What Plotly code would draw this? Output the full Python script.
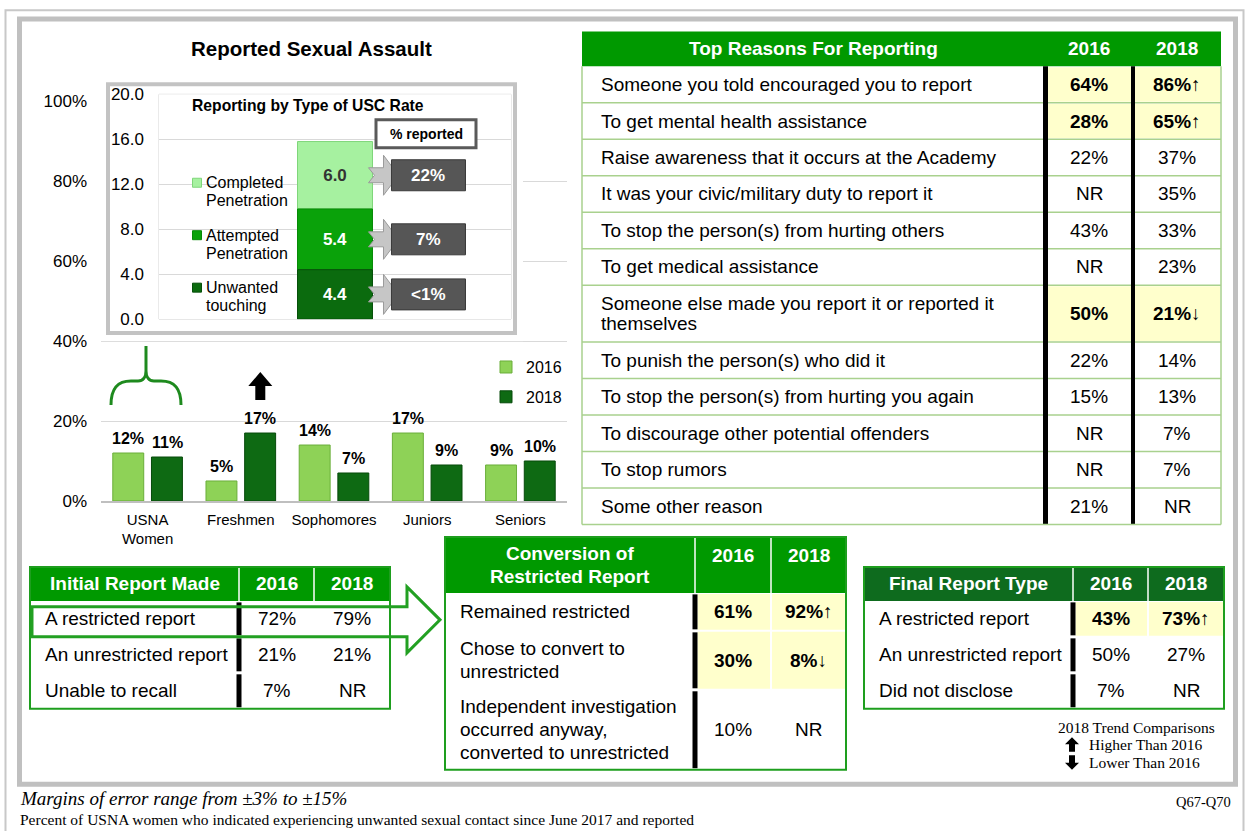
import itertools
import plotly.graph_objects as go

W, H = 1247, 831
SANS = "Arial, 'Liberation Sans', sans-serif"
SERIF = "'Times New Roman', 'Liberation Serif', serif"

# ---------------- data ----------------
groups = ["USNA Women", "Freshmen", "Sophomores", "Juniors", "Seniors"]
group_ticks = ["USNA<br>Women", "Freshmen", "Sophomores", "Juniors", "Seniors"]
rate_2016 = [12, 5, 14, 17, 9]
rate_2018 = [11, 17, 7, 9, 10]
trend_2018 = ["", "up", "", "", ""]

usc_types = ["Unwanted<br>touching", "Attempted<br>Penetration", "Completed<br>Penetration"]
usc_rate = [4.4, 5.4, 6.0]
usc_reported = ["<1%", "7%", "22%"]

reasons = [
    "Someone you told encouraged you to report",
    "To get mental health assistance",
    "Raise awareness that it occurs at the Academy",
    "It was your civic/military duty to report it",
    "To stop the person(s) from hurting others",
    "To get medical assistance",
    "Someone else made you report it or reported it<br>themselves",
    "To punish the person(s) who did it",
    "To stop the person(s) from hurting you again",
    "To discourage other potential offenders",
    "To stop rumors",
    "Some other reason",
]
reasons_2016 = ["64%", "28%", "22%", "NR", "43%", "NR", "50%", "22%", "15%", "NR", "NR", "21%"]
reasons_2018 = ["86%", "65%", "37%", "35%", "33%", "23%", "21%", "14%", "13%", "7%", "7%", "NR"]
reasons_trend = ["up", "up", "", "", "", "", "down", "", "", "", "", ""]

initial_types = ["A restricted report", "An unrestricted report", "Unable to recall"]
initial_2016 = ["72%", "21%", "7%"]
initial_2018 = ["79%", "21%", "NR"]
initial_trend = ["", "", ""]

conversion_types = [
    "Remained restricted",
    "Chose to convert to<br>unrestricted",
    "Independent investigation<br>occurred anyway,<br>converted to unrestricted",
]
conversion_2016 = ["61%", "30%", "10%"]
conversion_2018 = ["92%", "8%", "NR"]
conversion_trend = ["up", "down", ""]

final_types = ["A restricted report", "An unrestricted report", "Did not disclose"]
final_2016 = ["43%", "50%", "7%"]
final_2018 = ["73%", "27%", "NR"]
final_trend = ["up", "", ""]

years = ["2016", "2018"]

# ---------------- helpers ----------------
# vertical placement: page y (px from top) -> paper fraction, with a small
# offset/scale so the drawing lands where it should inside the window
Y_OFF, Y_SCALE = 8.6, 0.978


def fx(x):
    return x / W


def fy(y):
    return 1 - ((y - Y_OFF) / Y_SCALE) / H


def ppath(points):
    out = []
    for p in points:
        if isinstance(p, str):
            out.append(p)
        else:
            out.append(f"{fx(p[0]):.5f} {fy(p[1]):.5f}")
    return " ".join(out)


shapes = []
annotations = []


def prect(x0, y0, x1, y1, fill=None, line_color=None, line_width=0, layer="below"):
    return dict(type="rect", xref="paper", yref="paper",
                x0=fx(x0), x1=fx(x1), y0=fy(y1), y1=fy(y0),
                fillcolor=fill if fill else "rgba(0,0,0,0)",
                line=dict(color=line_color if line_color else "rgba(0,0,0,0)", width=line_width),
                layer=layer)


def pline(x0, y0, x1, y1, color, width, layer="below"):
    return dict(type="line", xref="paper", yref="paper",
                x0=fx(x0), x1=fx(x1), y0=fy(y0), y1=fy(y1),
                line=dict(color=color, width=width), layer=layer)


def label(x, y, text, size, color="black", xanchor="center", family=SANS):
    annotations.append(dict(xref="paper", yref="paper", x=fx(x), y=fy(y), text=text,
                            showarrow=False, xanchor=xanchor, yanchor="middle",
                            font=dict(size=size, color=color, family=family)))


fig = go.Figure()

# ---------------- outer frames ----------------
shapes.append(prect(5.5, 9.8, 1243.5, 850, line_color="#C8C8C8", line_width=2))
shapes.append(prect(19.5, 18.5, 1235.5, 784.5, line_color="#C0C0C0", line_width=5))

# ---------------- main grouped bar chart ----------------
year_fill = {"2016": "#8ED257", "2018": "#0E6A13"}
year_edge = {"2016": "#6AAE3A", "2018": "#074A0B"}
for yr, vals in zip(years, (rate_2016, rate_2018)):
    fig.add_trace(go.Bar(
        x=groups, y=vals, name=yr, legendgroup=yr,
        marker=dict(color=year_fill[yr], line=dict(color=year_edge[yr], width=1)),
        hoverinfo="skip",
    ))

BAR_SHIFT = 19.4
for yr, vals, sgn in zip(years, (rate_2016, rate_2018), (-1, 1)):
    for g, v in zip(groups, vals):
        annotations.append(dict(xref="x", yref="y", x=g, y=v, xshift=sgn * BAR_SHIFT, yshift=4,
                                text=f"<b>{v}%</b>", showarrow=False, yanchor="bottom",
                                font=dict(size=16, color="black", family=SANS)))

# trend arrows above the 2018 bars
for g, v, t in zip(groups, rate_2018, trend_2018):
    if t:
        if t == "up":
            arrow = "M14.5 33 L24.5 33 L24.5 47 L31.5 47 L19.5 61 L7.5 47 L14.5 47 Z"
        else:
            arrow = "M14.5 61 L24.5 61 L24.5 47 L31.5 47 L19.5 33 L7.5 47 L14.5 47 Z"
        shapes.append(dict(type="path", xref="x", yref="y", xsizemode="pixel", ysizemode="pixel",
                           xanchor=g, yanchor=v, path=arrow, fillcolor="black",
                           line=dict(color="black", width=0), layer="above"))

# brace over the USNA Women pair
brace = ppath(["M", (111, 405), "C", (111, 389), (117, 381), (131, 381), "L", (138, 381),
               "C", (143, 381), (146, 377), (146, 371), "L", (146, 346),
               "M", (146, 371), "C", (146, 377), (149, 381), (154, 381), "L", (161, 381),
               "C", (175, 381), (181, 389), (181, 405)])
shapes.append(dict(type="path", xref="paper", yref="paper", path=brace,
                   line=dict(color="#1E8A1E", width=3), fillcolor="rgba(0,0,0,0)", layer="above"))

label(311, 48, "<b>Reported Sexual Assault</b>", 20.5)

# ---------------- inset: frame subplot (x2/y2) ----------------
FR_L, FR_R, FR_T, FR_B = 100, 523, 76, 341


def X2(x):
    return (x - FR_L) / (FR_R - FR_L)


def Y2(y):
    return (fy(y) - fy(FR_B)) / (fy(FR_T) - fy(FR_B))


fig.add_trace(go.Scatter(x=[None], y=[None], xaxis="x2", yaxis="y2", showlegend=False,
                         hoverinfo="skip"))
shapes.append(dict(type="rect", xref="x2", yref="y2", x0=X2(108), x1=X2(515), y0=Y2(333), y1=Y2(84),
                   fillcolor="white", line=dict(color="#C3C3C3", width=4), layer="below"))
shapes.append(dict(type="rect", xref="x2", yref="y2", x0=X2(159), x1=X2(511), y0=Y2(319), y1=Y2(94),
                   fillcolor="white", line=dict(color="#D4D4D4", width=1), layer="below"))

# ---------------- inset: stacked USC rate bar (x3/y3) ----------------
usc_fill = ["#0B6B0E", "#0AA20A", "#A6F1A0"]
usc_edge = ["#06500A", "#078A07", "#7FD67A"]
usc_text = ["white", "white", "#333333"]
usc_base = [0] + list(itertools.accumulate(usc_rate))[:-1]
BAR_W = 0.213
for i in reversed(range(len(usc_rate))):
    fig.add_trace(go.Bar(
        x=[0.5], y=[usc_rate[i]], base=[usc_base[i]], width=[BAR_W], offsetgroup="usc",
        xaxis="x3", yaxis="y3", name=usc_types[i], showlegend=False,
        marker=dict(color=usc_fill[i], line=dict(color=usc_edge[i], width=1)),
        text=[f"<b>{usc_rate[i]:.1f}</b>"], textposition="inside", insidetextanchor="middle",
        textangle=0, textfont=dict(color=usc_text[i], size=17, family=SANS),
        hoverinfo="skip",
    ))

bar_right = 0.5 + BAR_W / 2
chevron = "M-4 7.5 L11 7.5 L11 20 L26 0 L11 -20 L11 -7.5 L-4 -7.5 L2 0 Z"
for i in range(len(usc_rate)):
    mid = usc_base[i] + usc_rate[i] / 2
    shapes.append(dict(type="path", xref="x3", yref="y3", xsizemode="pixel", ysizemode="pixel",
                       xanchor=bar_right, yanchor=mid, path=chevron, fillcolor="#C6C6C6",
                       line=dict(color="#9A9A9A", width=1), layer="above"))
    shapes.append(dict(type="rect", xref="x3", yref="y3", xsizemode="pixel", ysizemode="pixel",
                       xanchor=bar_right, yanchor=mid, x0=19, x1=93, y0=-15.5, y1=15.5,
                       fillcolor="#565656", line=dict(color="#3A3A3A", width=1), layer="above"))
    annotations.append(dict(xref="x3", yref="y3", x=bar_right, y=mid, xshift=56,
                            text=f"<b>{usc_reported[i]}</b>", showarrow=False,
                            font=dict(color="white", size=17, family=SANS)))

# inset key: one entry per USC type, top entry = top segment
KEY_X, KEY_TOP, KEY_STEP, KEY_LINE = 197, 182.5, 52.5, 18
for slot, i in enumerate(reversed(range(len(usc_types)))):
    ky = KEY_TOP + slot * KEY_STEP
    shapes.append(prect(KEY_X - 4.5, ky - 4.5, KEY_X + 4.5, ky + 4.5, fill=usc_fill[i],
                        line_color=usc_edge[i], line_width=1, layer="above"))
    for k, part in enumerate(usc_types[i].split("<br>")):
        label(KEY_X + 7, ky + k * KEY_LINE, part, 16, xanchor="left")

shapes.append(prect(376, 119.5, 476, 147.5, fill="white", line_color="#5A5A5A", line_width=3,
                    layer="above"))
label(426, 133.5, "<b>% reported</b>", 14)
label(190, 105, "<b>Reporting by Type of USC Rate</b>", 15.7, xanchor="left")

# ---------------- tables ----------------
GLYPH = {"up": "↑", "down": "↓", "": ""}
YELLOW = "#FFFFCC"


def add_table(x_edges, top, head_h, head_color, head_lines, labels, c16, c18, trend,
              row_h, row_extra, line_gap, head_gap, year_y=None, label_pad=13,
              grid_color=None, border=("#1E9E1E", 2), black_both=False, head_seps=True,
              font_size=19, head_size=19):
    x0, xa, xb, x1 = x_edges
    hb = top + head_h
    shapes.append(prect(x0, top, x1, hb, fill=head_color))
    if head_seps:
        for xs in (xa, xb):
            shapes.append(pline(xs, top, xs, hb, "white", 1.5))
    n = len(head_lines)
    for k, line in enumerate(head_lines):
        label((x0 + xa) / 2, (top + hb) / 2 + (k - (n - 1) / 2) * head_gap,
              f"<b>{line}</b>", head_size, color="white")
    yy = year_y if year_y is not None else (top + hb) / 2
    for xc, yr in zip(((xa + xb) / 2, (xb + x1) / 2), years):
        label(xc, yy, f"<b>{yr}</b>", head_size, color="white")

    heights = [row_h + row_extra * lab.count("<br>") for lab in labels]
    edges = list(itertools.accumulate(heights, initial=hb))
    bottom = edges[-1]
    for i, lab in enumerate(labels):
        r0, r1 = edges[i], edges[i + 1]
        flag = trend[i] != ""
        if flag:
            shapes.append(prect(xa + 2.5, r0 + 1, xb - (2 if black_both else 1), r1 - 1, fill=YELLOW))
            shapes.append(prect(xb + (2 if black_both else 1), r0 + 1, x1 - 1, r1 - 1, fill=YELLOW))
        lines = lab.split("<br>")
        yc = (r0 + r1) / 2
        for k, ln in enumerate(lines):
            label(x0 + label_pad, yc + (k - (len(lines) - 1) / 2) * line_gap, ln, font_size,
                  xanchor="left")
        v16 = f"<b>{c16[i]}</b>" if flag else c16[i]
        v18 = f"<b>{c18[i]}</b>{GLYPH[trend[i]]}" if flag else c18[i]
        label((xa + xb) / 2, yc, v16, font_size)
        label((xb + x1) / 2, yc, v18, font_size)
        if not black_both:
            shapes.append(prect(xa - 2.5, r0 + 1.5, xa + 2.5, r1 - 1.5, fill="black"))
    if black_both:
        shapes.append(prect(xa - 2.5, hb, xa + 2.5, bottom, fill="black"))
        shapes.append(prect(xb - 2, hb, xb + 2, bottom, fill="black"))
    if grid_color:
        for e in edges[1:-1]:
            shapes.append(pline(x0, e, xa - 2.5, e, grid_color, 1.5))
            shapes.append(pline(xa + 2.5, e, xb - 2, e, grid_color, 1.5))
            shapes.append(pline(xb + 2, e, x1, e, grid_color, 1.5))
        shapes.append(pline(x0, bottom, x1, bottom, grid_color, 1.5))
        shapes.append(pline(x0, hb, x0, bottom, grid_color, 1.5))
        shapes.append(pline(x1, hb, x1, bottom, grid_color, 1.5))
    if border:
        shapes.append(prect(x0, top, x1, bottom, line_color=border[0], line_width=border[1]))


add_table((582, 1045.5, 1133, 1221), 31, 35, "#009900", ["Top Reasons For Reporting"],
          reasons, reasons_2016, reasons_2018, reasons_trend,
          row_h=36.5, row_extra=20.5, line_gap=20.5, head_gap=0, label_pad=17,
          grid_color="#A9D18E", border=None, black_both=True, head_seps=False)

add_table((30, 239, 314, 390), 567, 34, "#009900", ["Initial Report Made"],
          initial_types, initial_2016, initial_2018, initial_trend,
          row_h=36, row_extra=0, line_gap=0, head_gap=0)

add_table((445, 695, 771, 846), 537, 56, "#009900", ["Conversion of", "Restricted Report"],
          conversion_types, conversion_2016, conversion_2018, conversion_trend,
          row_h=38, row_extra=21, line_gap=23, head_gap=23, year_y=556)

add_table((864, 1073, 1148, 1224), 567, 34, "#0E6B1E", ["Final Report Type"],
          final_types, final_2016, final_2018, final_trend,
          row_h=36, row_extra=0, line_gap=0, head_gap=0)

# hand-off arrow from the restricted row to the conversion table
handoff = ppath(["M", (32, 607), "L", (407, 607), "L", (407, 587), "L", (440, 620), "L", (407, 653),
                 "L", (407, 637), "L", (32, 637), "Z"])
shapes.append(dict(type="path", xref="paper", yref="paper", path=handoff,
                   line=dict(color="#22A022", width=3), fillcolor="rgba(0,0,0,0)", layer="above"))

# ---------------- trend key and footnotes ----------------
label(1136, 728, "2018 Trend Comparisons", 15.5, family=SERIF)
label(1087, 745, "Higher Than 2016", 15.5, xanchor="left", family=SERIF)
label(1087, 763, "Lower Than 2016", 15.5, xanchor="left", family=SERIF)
up_key = ppath(["M", (1072, 737.5), "L", (1079, 744.5), "L", (1075, 744.5), "L", (1075, 752),
                "L", (1069, 752), "L", (1069, 744.5), "L", (1065, 744.5), "Z"])
down_key = ppath(["M", (1072, 770), "L", (1079, 763), "L", (1075, 763), "L", (1075, 755.5),
                  "L", (1069, 755.5), "L", (1069, 763), "L", (1065, 763), "Z"])
for pth in (up_key, down_key):
    shapes.append(dict(type="path", xref="paper", yref="paper", path=pth, fillcolor="black",
                       line=dict(color="black", width=0), layer="above"))

label(18, 799, "<i>Margins of error range from ±3% to ±15%</i>", 19, xanchor="left", family=SERIF)
label(18, 820, "Percent of USNA women who indicated experiencing unwanted sexual contact since June 2017 and reported",
      15.5, xanchor="left", family=SERIF)
label(1233, 802, "Q67-Q70", 14.5, xanchor="right", family=SERIF)

# ---------------- layout ----------------
fig.update_layout(
    width=W, height=H, autosize=False,
    margin=dict(l=0, r=0, t=0, b=0),
    paper_bgcolor="white", plot_bgcolor="white",
    font=dict(family=SANS, color="black"),
    barmode="group", bargap=0.17, bargroupgap=0.2,
    hovermode=False,
    showlegend=True,
    xaxis=dict(domain=[fx(101), fx(567)], type="category", tickvals=groups, ticktext=group_ticks,
               tickfont=dict(size=15, color="black"), showline=True, linecolor="#BFBFBF",
               linewidth=1.5, showgrid=False, ticks="", fixedrange=True, ticklabelstandoff=4),
    yaxis=dict(domain=[fy(501), fy(101)], range=[0, 100], dtick=20, ticksuffix="%",
               tickfont=dict(size=17, color="black"), gridcolor="#D9D9D9", gridwidth=1,
               zeroline=False, showline=False, ticks="", fixedrange=True, ticklabelstandoff=13),
    xaxis2=dict(domain=[fx(FR_L), fx(FR_R)], range=[0, 1], visible=False, anchor="y2",
                fixedrange=True),
    yaxis2=dict(domain=[fy(FR_B), fy(FR_T)], range=[0, 1], visible=False, anchor="x2",
                fixedrange=True),
    xaxis3=dict(domain=[fx(159), fx(511)], range=[0, 1], visible=False, anchor="y3",
                fixedrange=True),
    yaxis3=dict(domain=[fy(319), fy(94)], range=[0, 20], dtick=4, tickformat=".1f",
                tickfont=dict(size=17, color="black"), gridcolor="#D9D9D9", zeroline=False,
                showline=False, ticks="", anchor="x3", fixedrange=True, ticklabelstandoff=14),
    legend=dict(x=fx(486), y=fy(350), xanchor="left", yanchor="top", bgcolor="rgba(0,0,0,0)",
                font=dict(size=16, color="black", family=SANS), tracegroupgap=6,
                traceorder="grouped"),
    shapes=shapes,
    annotations=annotations,
)

fig.write_html("out.html")
